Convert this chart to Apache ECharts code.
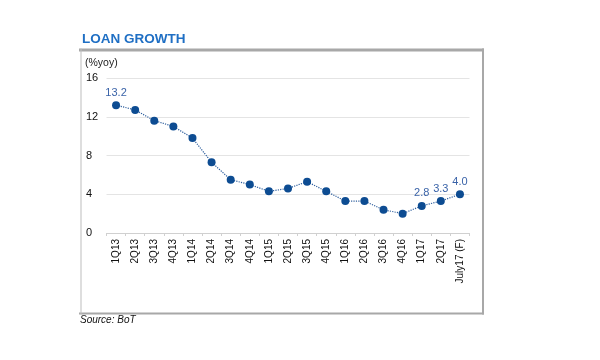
<!DOCTYPE html>
<html><head><meta charset="utf-8">
<script src="https://cdn.jsdelivr.net/npm/echarts@6/dist/echarts.min.js"></script>
<style>html,body{margin:0;padding:0;background:#fff}#c{width:600px;height:360px}</style>
</head><body><div id="c"></div>
<script>
var categories = ['1Q13','2Q13','3Q13','4Q13','1Q14','2Q14','3Q14','4Q14','1Q15','2Q15','3Q15','4Q15','1Q16','2Q16','3Q16','4Q16','1Q17','2Q17','July17 (F)'];
var loanGrowth = [13.2,12.7,11.6,11.0,9.8,7.3,5.5,5.0,4.3,4.6,5.3,4.3,3.3,3.3,2.4,2.0,2.8,3.3,4.0];
var labeledIdx = [0,16,17,18];
var yTicks = [0,4,8,12,16];

var chart = echarts.init(document.getElementById('c'), null, {renderer:'canvas'});
var data = loanGrowth.map(function(v,i){
  return {value:v, label:{show: labeledIdx.indexOf(i)>=0}};
});
chart.setOption({
  animation:false,
  textStyle:{fontFamily:'Liberation Sans, Arial, sans-serif'},
  grid:{left:106.5, right:130.5, top:78, bottom:127, containLabel:false},
  title:{text:'LOAN GROWTH', left:77, top:27,
    textStyle:{color:'#1f6fc4', fontSize:13.5, fontWeight:'bold', fontFamily:'Liberation Sans, Arial, sans-serif'}},
  graphic:[
    {type:'rect', shape:{x:79,y:48.5,width:405,height:3}, style:{fill:'#a8a8a8'}},
    {type:'rect', shape:{x:482,y:48.5,width:2,height:266}, style:{fill:'#a8a8a8'}},
    {type:'rect', shape:{x:79,y:312.5,width:405,height:2}, style:{fill:'#a8a8a8'}},
    {type:'rect', shape:{x:80.5,y:48.5,width:1,height:266}, style:{fill:'#bdbdbd'}},
    {type:'text', left:85, top:58, style:{text:'(%yoy)', fontSize:10.5, fill:'#222', fontFamily:'Liberation Sans, Arial, sans-serif'}},
    {type:'text', left:80, top:315, style:{text:'Source: BoT', fontSize:10, fontStyle:'italic', fill:'#111', fontFamily:'Liberation Sans, Arial, sans-serif'}}
  ],
  xAxis:{type:'category', data:categories, boundaryGap:true,
    axisLine:{lineStyle:{color:'#d0d0d0'}},
    axisTick:{show:true, length:3, lineStyle:{color:'#d0d0d0'}},
    axisLabel:{rotate:90, fontSize:10, color:'#111', margin:6, interval:0}},
  yAxis:{type:'value', min:0, max:16, interval:4,
    axisLine:{show:false}, axisTick:{show:false},
    splitLine:{lineStyle:{color:'#e4e4e4'}},
    axisLabel:{align:'left', margin:20.5, fontSize:11, color:'#111',
      formatter:function(v){return yTicks.indexOf(v)>=0? String(v):'';}}},
  series:[{type:'line', data:data, symbol:'circle', symbolSize:8,
    itemStyle:{color:'#0d4c92'},
    lineStyle:{color:'#2f5f9e', width:1.2, type:'dotted'},
    label:{position:'top', distance:3, color:'#3a63a8', fontSize:11,
      formatter:function(p){return p.value.toFixed(1);}}
  }]
});
</script></body></html>
